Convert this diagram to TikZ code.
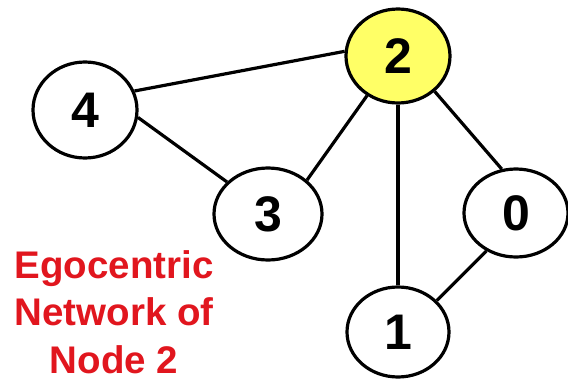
\documentclass[tikz,border=0pt]{standalone}
\usepackage{fontspec}
\setmainfont{Liberation Sans}
\usetikzlibrary{shapes.geometric}
\definecolor{egoyellow}{RGB}{255,255,102}
\definecolor{egored}{RGB}{225,22,30}
\tikzset{
  vertex/.style={draw=black, line width=3.2pt, ellipse, inner sep=0pt, fill=white,
    font=\fontsize{50}{50}\selectfont\bfseries},
  link/.style={draw=black, line width=3.2pt},
  caption/.style={text=egored, align=center, font=\fontsize{38.5}{47.5}\selectfont\bfseries}
}
\begin{document}
\begin{tikzpicture}[x=1pt,y=-1pt]
\useasboundingbox (0,0) rectangle (568,380);
\node[vertex, fill=egoyellow, minimum width=104pt, minimum height=94pt] (n2) at (398,56) {2};
\node[vertex, minimum width=104pt, minimum height=96pt] (n4) at (85,110) {4};
\node[vertex, minimum width=108pt, minimum height=92pt] (n3) at (268,214) {3};
\node[vertex, minimum width=104pt, minimum height=88pt] (n0) at (516,213) {0};
\node[vertex, minimum width=102pt, minimum height=90pt] (n1) at (398,332) {1};
\draw[link] (n4.21) -- (n2.175);
\draw[link] (n4.-8) -- (n3.142);
\draw[link] (n3.41) -- (n2.232);
\draw[link] (n2.south) -- (n1.north);
\draw[link] (n2.-44) -- (n0.108);
\draw[link] (n0.232) -- (n1.39);
\node[caption] (cap) at (114,312) {Egocentric\\Network of\\Node 2};
\end{tikzpicture}
\end{document}
